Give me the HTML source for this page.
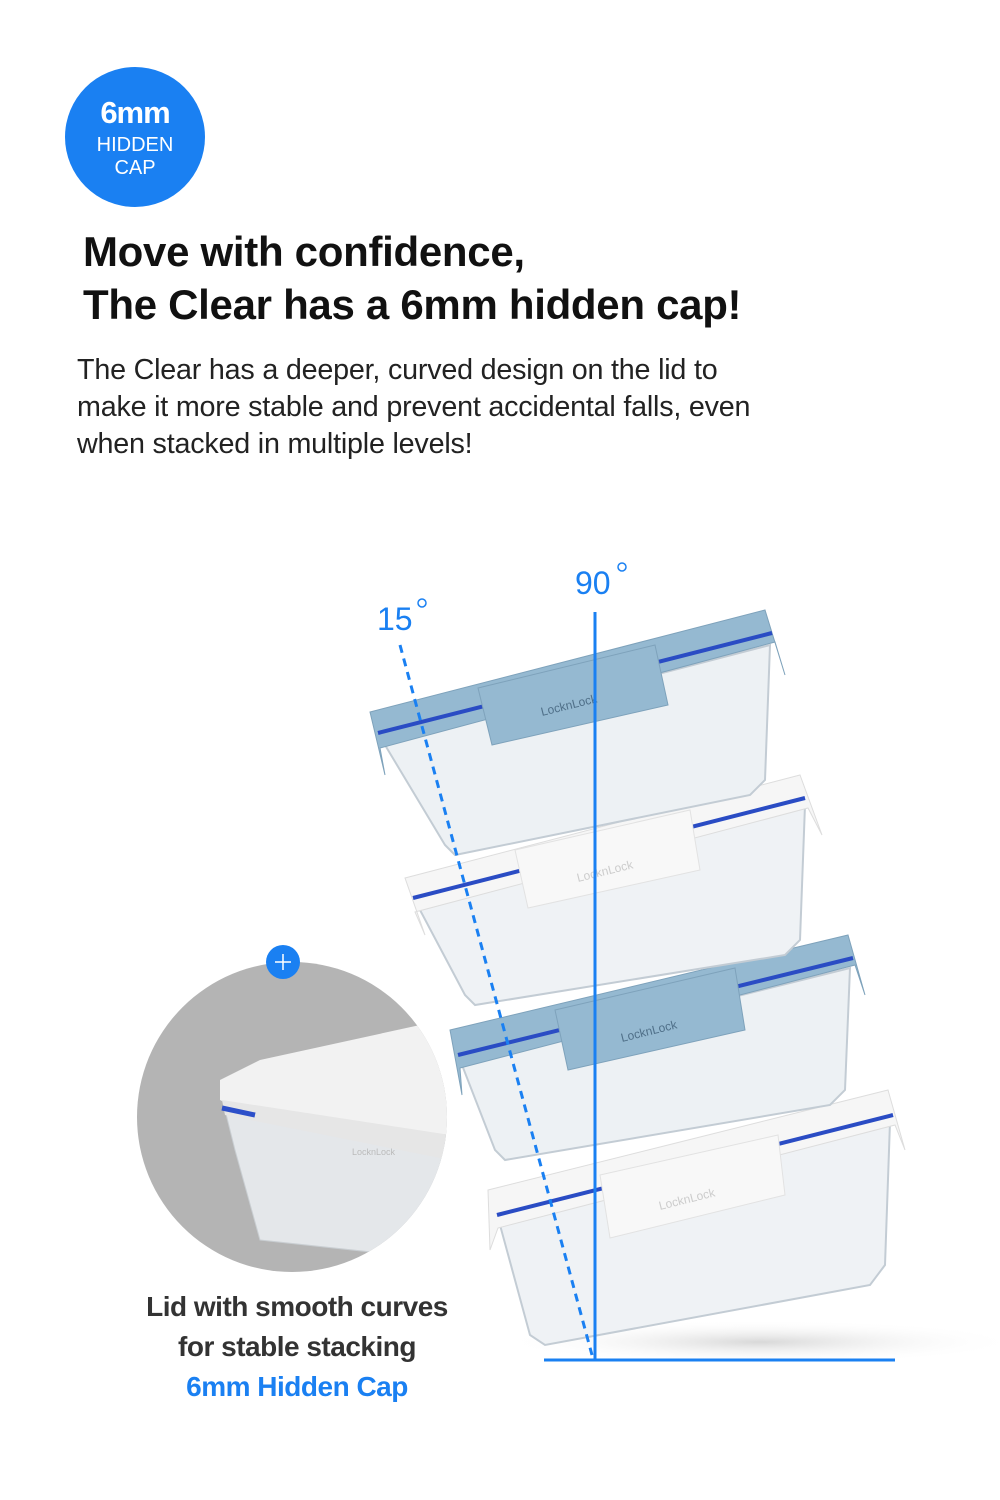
<!DOCTYPE html>
<html><head><meta charset="utf-8"><style>
html,body{margin:0;padding:0;background:#fff}
body{width:1000px;height:1500px;position:relative;overflow:hidden;font-family:"Liberation Sans",sans-serif}
.badge{position:absolute;left:65px;top:67px;width:140px;height:140px;border-radius:50%;background:#1a80f2;color:#fff;text-align:center}
.h{position:absolute;left:83px;font-weight:bold;font-size:42px;color:#111;letter-spacing:-0.3px}
.p{position:absolute;left:77px;top:352px;font-size:28.7px;line-height:37px;color:#222;letter-spacing:-0.2px}
.cap{position:absolute;left:97px;width:400px;text-align:center;font-weight:bold;font-size:28px;color:#333;letter-spacing:-0.5px}
</style></head><body>
<div class="badge">
<div style="position:absolute;top:28px;width:100%;font-size:31px;font-weight:bold;letter-spacing:-1px">6mm</div>
<div style="position:absolute;top:67px;width:100%;font-size:20px">HIDDEN</div>
<div style="position:absolute;top:90px;width:100%;font-size:20px">CAP</div>
</div>
<div class="h" style="top:228px">Move with confidence,</div>
<div class="h" style="top:281px">The Clear has a 6mm hidden cap!</div>
<div class="p">The Clear has a deeper, curved design on the lid to<br>make it more stable and prevent accidental falls, even<br>when stacked in multiple levels!</div>

<svg width="1000" height="1500" style="position:absolute;left:0;top:0">
<defs>
<clipPath id="cc"><circle cx="292" cy="1117" r="155"/></clipPath>
<radialGradient id="sh" cx="0.5" cy="0.5" r="0.5"><stop offset="0" stop-color="#d8d8d8"/><stop offset="1" stop-color="#fff" stop-opacity="0"/></radialGradient>
</defs>
<ellipse cx="760" cy="1342" rx="260" ry="22" fill="url(#sh)"/>
<circle cx="292" cy="1117" r="155" fill="#b4b4b4"/>
<g clip-path="url(#cc)">
<polygon points="225,1110 445,1135 445,1260 260,1240 235,1150" fill="#e4e7ea" stroke="#c9ced2"/>
<polygon points="220,1080 260,1060 420,1025 450,1040 450,1135 240,1110 220,1100" fill="#f2f2f2"/>
<polygon points="222,1100 450,1135 450,1160 225,1115" fill="#e6e6e6"/>
<line x1="222" y1="1108" x2="255" y2="1115" stroke="#2c4fc9" stroke-width="5"/>
<text x="352" y="1155" font-size="9" fill="#bbb">LocknLock</text>
</g>
<circle cx="283" cy="962" r="17" fill="#1a80f2"/>
<path d="M275 962h16M283 954v16" stroke="#fff" stroke-width="1.5"/>

<g>
<polygon points="500,1225 890,1122 885,1265 870,1285 545,1345 530,1335" fill="#eff2f5" stroke="#c3ccd4" stroke-width="2"/>
<polygon points="488,1190 888,1090 905,1150 895,1125 498,1228 490,1250" fill="#f6f6f6" stroke="#ddd"/>
<line x1="497" y1="1215" x2="893" y2="1115" stroke="#2a4cc4" stroke-width="4"/>
<polygon points="600,1175 778,1135 785,1195 610,1238" fill="#f8f8f8" stroke="#e2e2e2"/>
<text x="660" y="1210" font-size="12" fill="#ccc" transform="rotate(-14 660 1210)">LocknLock</text>
</g>
<g>
<polygon points="462,1065 850,968 845,1090 830,1105 505,1160 495,1150" fill="#edf1f4" stroke="#c3ccd4" stroke-width="2"/>
<polygon points="450,1030 848,935 865,995 855,965 460,1068 462,1095" fill="#95b9d1" stroke="#7ea2bb"/>
<line x1="458" y1="1055" x2="853" y2="958" stroke="#2a4cc4" stroke-width="4"/>
<polygon points="555,1010 735,968 745,1030 568,1070" fill="#95b9d1" stroke="#7ea2bb"/>
<text x="622" y="1042" font-size="12" fill="#4f6f88" transform="rotate(-14 622 1042)">LocknLock</text>
</g>
<g>
<polygon points="420,910 805,805 800,940 785,955 475,1005 465,995" fill="#eff2f5" stroke="#c3ccd4" stroke-width="2"/>
<polygon points="405,878 800,775 822,835 808,808 415,912 425,935" fill="#f6f6f6" stroke="#ddd"/>
<line x1="413" y1="898" x2="805" y2="798" stroke="#2a4cc4" stroke-width="4"/>
<polygon points="515,850 690,810 700,870 528,908" fill="#f8f8f8" stroke="#e2e2e2"/>
<text x="578" y="882" font-size="12" fill="#ccc" transform="rotate(-14 578 882)">LocknLock</text>
</g>
<g>
<polygon points="385,745 770,645 765,780 750,795 455,855 445,845" fill="#edf1f4" stroke="#c3ccd4" stroke-width="2"/>
<polygon points="370,712 765,610 785,675 775,642 380,748 385,775" fill="#95b9d1" stroke="#7ea2bb"/>
<line x1="378" y1="733" x2="772" y2="633" stroke="#2a4cc4" stroke-width="4"/>
<polygon points="478,688 655,645 668,705 492,745" fill="#95b9d1" stroke="#7ea2bb"/>
<text x="542" y="716" font-size="12" fill="#4f6f88" transform="rotate(-14 542 716)">LocknLock</text>
</g>

<line x1="595" y1="612" x2="595" y2="1360" stroke="#1a80f2" stroke-width="3"/>
<line x1="544" y1="1360" x2="895" y2="1360" stroke="#1a80f2" stroke-width="3"/>
<line x1="400" y1="645" x2="592" y2="1355" stroke="#1a80f2" stroke-width="3" stroke-dasharray="8,6"/>
<text x="377" y="630" font-size="32" fill="#1a80f2">15</text>
<circle cx="422" cy="603" r="4" fill="none" stroke="#1a80f2" stroke-width="1.5"/>
<text x="575" y="594" font-size="32" fill="#1a80f2">90</text>
<circle cx="622" cy="567" r="4" fill="none" stroke="#1a80f2" stroke-width="1.5"/>
</svg>

<div class="cap" style="top:1291px">Lid with smooth curves</div>
<div class="cap" style="top:1331px">for stable stacking</div>
<div class="cap" style="top:1371px;color:#1a80f2">6mm Hidden Cap</div>
</body></html>
